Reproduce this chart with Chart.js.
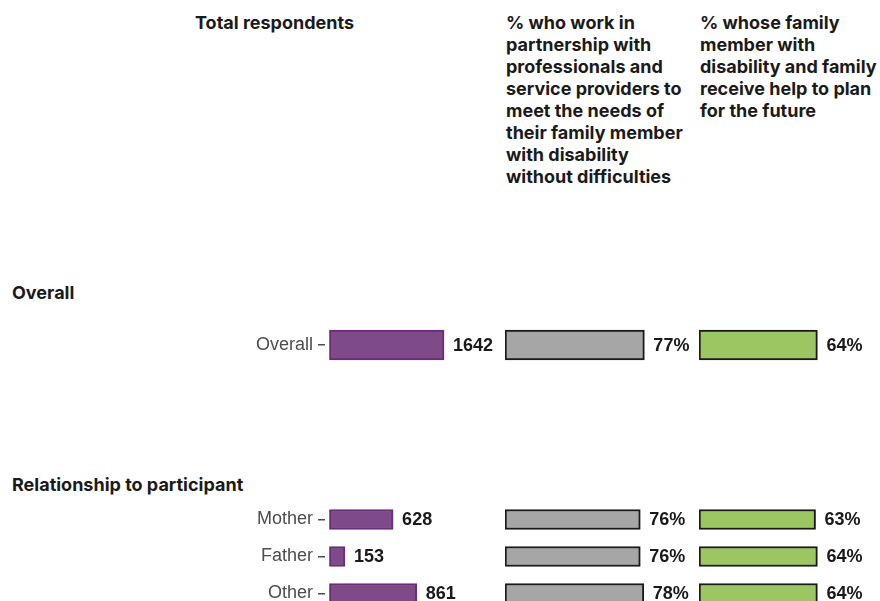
<!DOCTYPE html>
<html lang="en">
<head>
<meta charset="UTF-8">
<title>Family member survey</title>
<script src="https://cdn.jsdelivr.net/npm/chart.js"></script>
<style>
  body { margin: 0; width: 880px; height: 601px; overflow: hidden; background: #fff; position: relative;
         font-family: Inter, "Liberation Sans", sans-serif; color: #1a1a1a; }
  .head { position: absolute; font-weight: 700; font-size: 18px; line-height: 22px; white-space: nowrap; }
  .box { position: absolute; }
</style>
</head>
<body>

<!-- column headers -->
<div class="head" style="left:0; width:549px; top:12px; text-align:center">Total respondents</div>
<div class="head" style="left:506px; top:12px">% who work in<br>partnership with<br>professionals and<br>service providers to<br>meet the needs of<br>their family member<br>with disability<br>without difficulties</div>
<div class="head" style="left:700px; top:12px">% whose family<br>member with<br>disability and family<br>receive help to plan<br>for the future</div>

<!-- section labels -->
<div class="head" style="left:12px; top:282px">Overall</div>
<div class="head" style="left:12px; top:474px">Relationship to participant</div>

<div class="box" style="left:150px; top:320px"><canvas id="p1" width="350" height="50"></canvas></div>
<div class="box" style="left:505px; top:320px"><canvas id="g1" width="190" height="50"></canvas></div>
<div class="box" style="left:699px; top:320px"><canvas id="v1" width="201" height="50"></canvas></div>

<div class="box" style="left:150px; top:501px"><canvas id="p2" width="350" height="111"></canvas></div>
<div class="box" style="left:505px; top:501px"><canvas id="g2" width="190" height="111"></canvas></div>
<div class="box" style="left:699px; top:501px"><canvas id="v2" width="201" height="111"></canvas></div>

<script>
// dati
const overallLabels = ['Overall'];
const overallTotal = [1642];
const overallPartnership = [77];
const overallPlanning = [64];

const relationLabels = ['Mother', 'Father', 'Other'];
const relationTotal = [628, 153, 861];
const relationPartnership = [76, 76, 78];
const relationPlanning = [63, 64, 64];

// etichette dei valori a destra delle barre
const valueLabels = {
  id: 'valueLabels',
  afterDatasetsDraw(chart, args, opts) {
    const ctx = chart.ctx;
    const meta = chart.getDatasetMeta(0);
    const data = chart.data.datasets[0].data;
    ctx.save();
    ctx.font = 'bold 18px "Liberation Sans", Arial, sans-serif';
    ctx.fillStyle = '#1a1a1a';
    ctx.textBaseline = 'middle';
    ctx.textAlign = 'left';
    meta.data.forEach((bar, i) => {
      ctx.fillText(data[i] + (opts.suffix || ''), bar.x + 9, bar.y + 1);
    });
    ctx.restore();
  }
};

function makeChart(id, labels, values, o) {
  const ctx = document.getElementById(id).getContext('2d');
  return new Chart(ctx, {
    type: 'bar',
    data: {
      labels: labels,
      datasets: [{
        data: values,
        backgroundColor: o.fill,
        borderColor: o.border,
        borderWidth: 2,
        borderSkipped: false,
        barThickness: o.thickness
      }]
    },
    options: {
      indexAxis: 'y',
      responsive: false,
      animation: false,
      layout: { padding: { left: 0, right: o.padRight, top: 0, bottom: 0 } },
      plugins: {
        legend: { display: false },
        tooltip: { enabled: false },
        valueLabels: { suffix: o.suffix }
      },
      scales: {
        x: { display: false, min: o.min, max: o.max },
        y: o.showLabels ? {
          border: { display: false },
          grid: { offset: false, drawOnChartArea: false, drawTicks: true, tickLength: 7, color: '#4d4d4d', lineWidth: 1.5 },
          ticks: { color: '#4d4d4d', padding: 5, font: { family: '"Liberation Sans", Arial, sans-serif', size: 18 } },
          afterFit(scale) {
            // larghezza fissa e nessun margine verticale per le etichette
            scale.width = 175;
            scale.paddingTop = 0;
            scale.paddingBottom = 0;
          }
        } : { display: false }
      }
    },
    plugins: [valueLabels]
  });
}

const purple = { fill: '#7e4a87', border: '#6a2c79', suffix: '', showLabels: true, padRight: 20 };
const grey = { fill: '#a6a6a6', border: '#1a1a1a', suffix: '%', showLabels: false, min: 0, max: 100 };
const green = { fill: '#9bc762', border: '#1a1a1a', suffix: '%', showLabels: false, min: 0, max: 100, padRight: 16 };

// Overall
makeChart('p1', overallLabels, overallTotal, Object.assign({}, purple, { min: -64, max: 2157, thickness: 30 }));
makeChart('g1', overallLabels, overallPartnership, Object.assign({}, grey, { padRight: 9, thickness: 30 }));
makeChart('v1', overallLabels, overallPlanning, Object.assign({}, green, { thickness: 30 }));

// Relationship to participant
makeChart('p2', relationLabels, relationTotal, Object.assign({}, purple, { min: -44, max: 1485, thickness: 20 }));
makeChart('g2', relationLabels, relationPartnership, Object.assign({}, grey, { padRight: 12, thickness: 20 }));
makeChart('v2', relationLabels, relationPlanning, Object.assign({}, green, { thickness: 20 }));
</script>
</body>
</html>
